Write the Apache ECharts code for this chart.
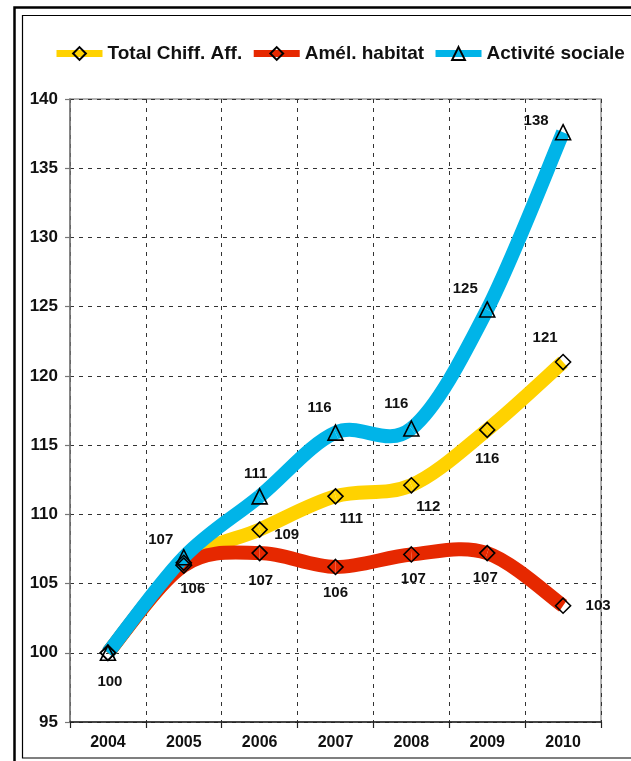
<!DOCTYPE html>
<html>
<head>
<meta charset="utf-8">
<script src="https://cdn.jsdelivr.net/npm/echarts@6/dist/echarts.min.js"></script>
<style>
html,body{margin:0;padding:0;background:#fff;}
#chart{width:631px;height:761px;}
</style>
</head>
<body>
<div id="chart"></div>
<script>
// ---- data ----
const years = ['2004', '2005', '2006', '2007', '2008', '2009', '2010'];
const seriesNames = ['Total Chiff. Aff.', 'Amél. habitat', 'Activité sociale'];
const totalCA = [100, 106.5, 108.9, 111.3, 112.1, 116.1, 121.0];
const amelHabitat = [100, 106.3, 107.2, 106.2, 107.1, 107.2, 103.4];
const activiteSociale = [100, 106.9, 111.3, 115.9, 116.2, 124.8, 137.6];
const yTicks = { min: 95, max: 140, step: 5 };

// ---- label placement (layout, not data); null = no label ----
const totalLabelOffsets = [[2, 29], null, [27, 5], [16, 23], [17, 22], [0, 29], [-18, -24]];
const amelLabelOffsets = [null, [9, 23], [1, 28], [0, 26], [2, 24], [-2, 25], [35, 0]];
const activiteLabelOffsets = [null, [-23, -17], [-4, -22], [-16, -25], [-15, -25], [-22, -21], [-27, -11]];

const colors = ['#FFD200', '#E62800', '#00B4E8'];
const FONT = '"Liberation Sans", Arial, Helvetica, sans-serif';
const LINE_W = 14;

function buildData(values, offsets) {
  return values.map((v, i) => ({
    value: v,
    label: offsets[i] ? { show: true, offset: offsets[i] } : { show: false }
  }));
}

// markers + labels + legend entry (line itself drawn by the custom series below)
function makeMarkerSeries(name, values, offsets, color, symbol, size) {
  return {
    name: name,
    type: 'line',
    z: 4,
    data: buildData(values, offsets),
    symbol: symbol,
    symbolSize: size,
    showAllSymbol: true,
    lineStyle: { color: color, width: LINE_W, opacity: 0 },
    itemStyle: { color: 'transparent', borderColor: '#000', borderWidth: 1.6 },
    label: {
      position: 'inside',
      formatter: p => String(Math.round(p.value)),
      fontFamily: FONT,
      fontWeight: 'bold',
      fontSize: 15,
      color: '#111'
    },
    emphasis: { disabled: true },
    animation: false
  };
}

// smooth (Catmull-Rom style, like the spreadsheet's smoothed line) through the axis coordinates
function makeCurveSeries(name, values, color) {
  return {
    name: name,
    type: 'custom',
    z: 2,
    silent: true,
    animation: false,
    clip: false,
    encode: { x: 0, y: 1 },
    data: values.map((v, i) => [i, v]),
    renderItem: function (params, api) {
      const i = params.dataIndex;
      if (i === 0) return null;
      const n = values.length;
      const P = j => api.coord([Math.max(0, Math.min(n - 1, j)), values[Math.max(0, Math.min(n - 1, j))]]);
      const p0 = P(i - 2), p1 = P(i - 1), p2 = P(i), p3 = P(i + 1);
      const t = 1 / 6;
      return {
        type: 'bezierCurve',
        shape: {
          x1: p1[0], y1: p1[1],
          cpx1: p1[0] + (p2[0] - p0[0]) * t, cpy1: p1[1] + (p2[1] - p0[1]) * t,
          cpx2: p2[0] - (p3[0] - p1[0]) * t, cpy2: p2[1] - (p3[1] - p1[1]) * t,
          x2: p2[0], y2: p2[1]
        },
        style: { stroke: color, lineWidth: LINE_W, fill: null, lineCap: 'butt' }
      };
    }
  };
}

const chart = echarts.init(document.getElementById('chart'), null, { renderer: 'canvas' });
chart.setOption({
  backgroundColor: '#fff',
  animation: false,
  color: colors,
  graphic: [
    { type: 'rect', z: 100, silent: true, shape: { x: 14.5, y: 7.5, width: 700, height: 800 },
      style: { fill: 'none', stroke: '#000', lineWidth: 2.5 } },
    { type: 'rect', z: 100, silent: true, shape: { x: 22.5, y: 15.5, width: 700, height: 742.5 },
      style: { fill: 'none', stroke: '#000', lineWidth: 1.2 } }
  ],
  legend: {
    left: 53,
    top: 44,
    width: 600,
    padding: 0,
    itemWidth: 46,
    itemHeight: 16,
    itemGap: 8,
    lineStyle: { width: 7, opacity: 1 },
    textStyle: { fontFamily: FONT, fontSize: 19, fontWeight: 'bold', color: '#111' },
    data: seriesNames
  },
  grid: {
    left: 70, right: 30, top: 99, bottom: 39,
    show: true, borderColor: '#999', borderWidth: 1.5, containLabel: false
  },
  xAxis: {
    type: 'category',
    data: years,
    boundaryGap: true,
    axisLine: { lineStyle: { color: '#222', width: 1.5 } },
    axisTick: { show: true, length: 6, lineStyle: { color: '#222', width: 1.2 } },
    axisLabel: { fontFamily: FONT, fontWeight: 'bold', fontSize: 16, color: '#111', margin: 13 },
    splitLine: { show: true, lineStyle: { color: '#333', type: [4, 5], width: 1 } }
  },
  yAxis: {
    type: 'value',
    min: yTicks.min,
    max: yTicks.max,
    interval: yTicks.step,
    axisLine: { show: true, lineStyle: { color: '#777', width: 1.5 } },
    axisTick: { show: true, length: 5, lineStyle: { color: '#777', width: 1.2 } },
    axisLabel: { fontFamily: FONT, fontWeight: 'bold', fontSize: 17, color: '#111', margin: 12 },
    splitLine: { show: true, lineStyle: { color: '#333', type: [4, 5], width: 1 } }
  },
  series: [
    makeMarkerSeries(seriesNames[0], totalCA, totalLabelOffsets, colors[0], 'diamond', 15),
    makeMarkerSeries(seriesNames[1], amelHabitat, amelLabelOffsets, colors[1], 'diamond', 15),
    makeMarkerSeries(seriesNames[2], activiteSociale, activiteLabelOffsets, colors[2], 'triangle', 15),
    makeCurveSeries(seriesNames[0], totalCA, colors[0]),
    makeCurveSeries(seriesNames[1], amelHabitat, colors[1]),
    makeCurveSeries(seriesNames[2], activiteSociale, colors[2])
  ]
});
</script>
</body>
</html>
